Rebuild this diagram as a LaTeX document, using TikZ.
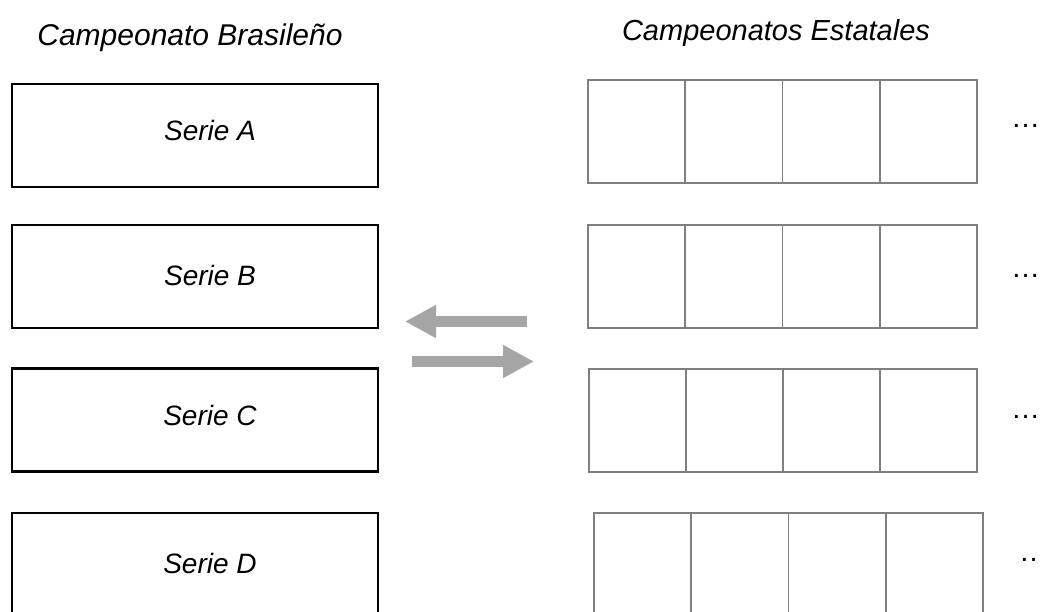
\documentclass[tikz,border=0pt]{standalone}
\usepackage{fontspec}
\setmainfont{Liberation Sans}
\usetikzlibrary{arrows.meta}
\definecolor{cellgray}{HTML}{7F7F7F}
\definecolor{arrgray}{HTML}{A6A6A6}
\begin{document}
\begin{tikzpicture}[x=1pt,y=-1pt,
  lbox/.style={draw=black, line width=2.3pt, minimum width=366pt, minimum height=103pt, inner sep=0pt, outer sep=0pt},
  cell/.style={draw=cellgray, line width=1.6pt, minimum height=103pt, inner sep=0pt, outer sep=0pt},
  lbl/.style={font=\fontsize{28}{34}\selectfont\itshape, inner sep=0pt},
  ttl/.style={font=\fontsize{29}{35}\selectfont\itshape, inner sep=0pt},
  dots/.style={font=\fontsize{29}{35}\selectfont, inner sep=0pt, anchor=base west},
  arr/.style={draw=arrgray, line width=11pt, -{Triangle[length=31pt,width=31pt]}}]
\useasboundingbox (0,0) rectangle (1040,611);
\clip (0,0) rectangle (1040,611);
% titles
\node[ttl, anchor=base, font=\fontsize{30}{36}\selectfont\itshape] (t1) at (190,45) {Campeonato Brasileño};
\node[ttl, anchor=base] (t2) at (776,40) {Campeonatos Estatales};
% left boxes
\node[lbox] (bA) at (195,135.5) {};
\node[lbox] (bB) at (195,276.5) {};
\node[lbox] (bC) at (195,420) {};
\node[lbox] (bD) at (195,564.5) {};
\node[lbl] (sA) at (210,130) {Serie A};
\node[lbl] (sB) at (210,275) {Serie B};
\node[lbl] (sC) at (210,415) {Serie C};
\node[lbl] (sD) at (210,563) {Serie D};
% right cells
\foreach \r/\l/\w/\yc in {A/588/97.25/131.5, B/588/97.25/276.5, C/589/97/420.5, D/594/97.25/564.5}{
  \foreach \i in {1,...,4}{
    \node[cell, minimum width=\w pt] (c\r\i) at ({\l+(\i-0.5)*\w},\yc) {};
  }
}
% dots
\node[dots] (dA) at (1011,127) {…};
\node[dots] (dB) at (1011,277) {…};
\node[dots] (dC) at (1011,418) {…};
\node[dots] (dD) at (1019,561) {…};
% arrows
\coordinate (la0) at (527,321.5);
\coordinate (la1) at (405,321.5);
\coordinate (ra0) at (412,361.5);
\coordinate (ra1) at (534,361.5);
\draw[arr] (la0) -- (la1);
\draw[arr] (ra0) -- (ra1);
\end{tikzpicture}
\end{document}
